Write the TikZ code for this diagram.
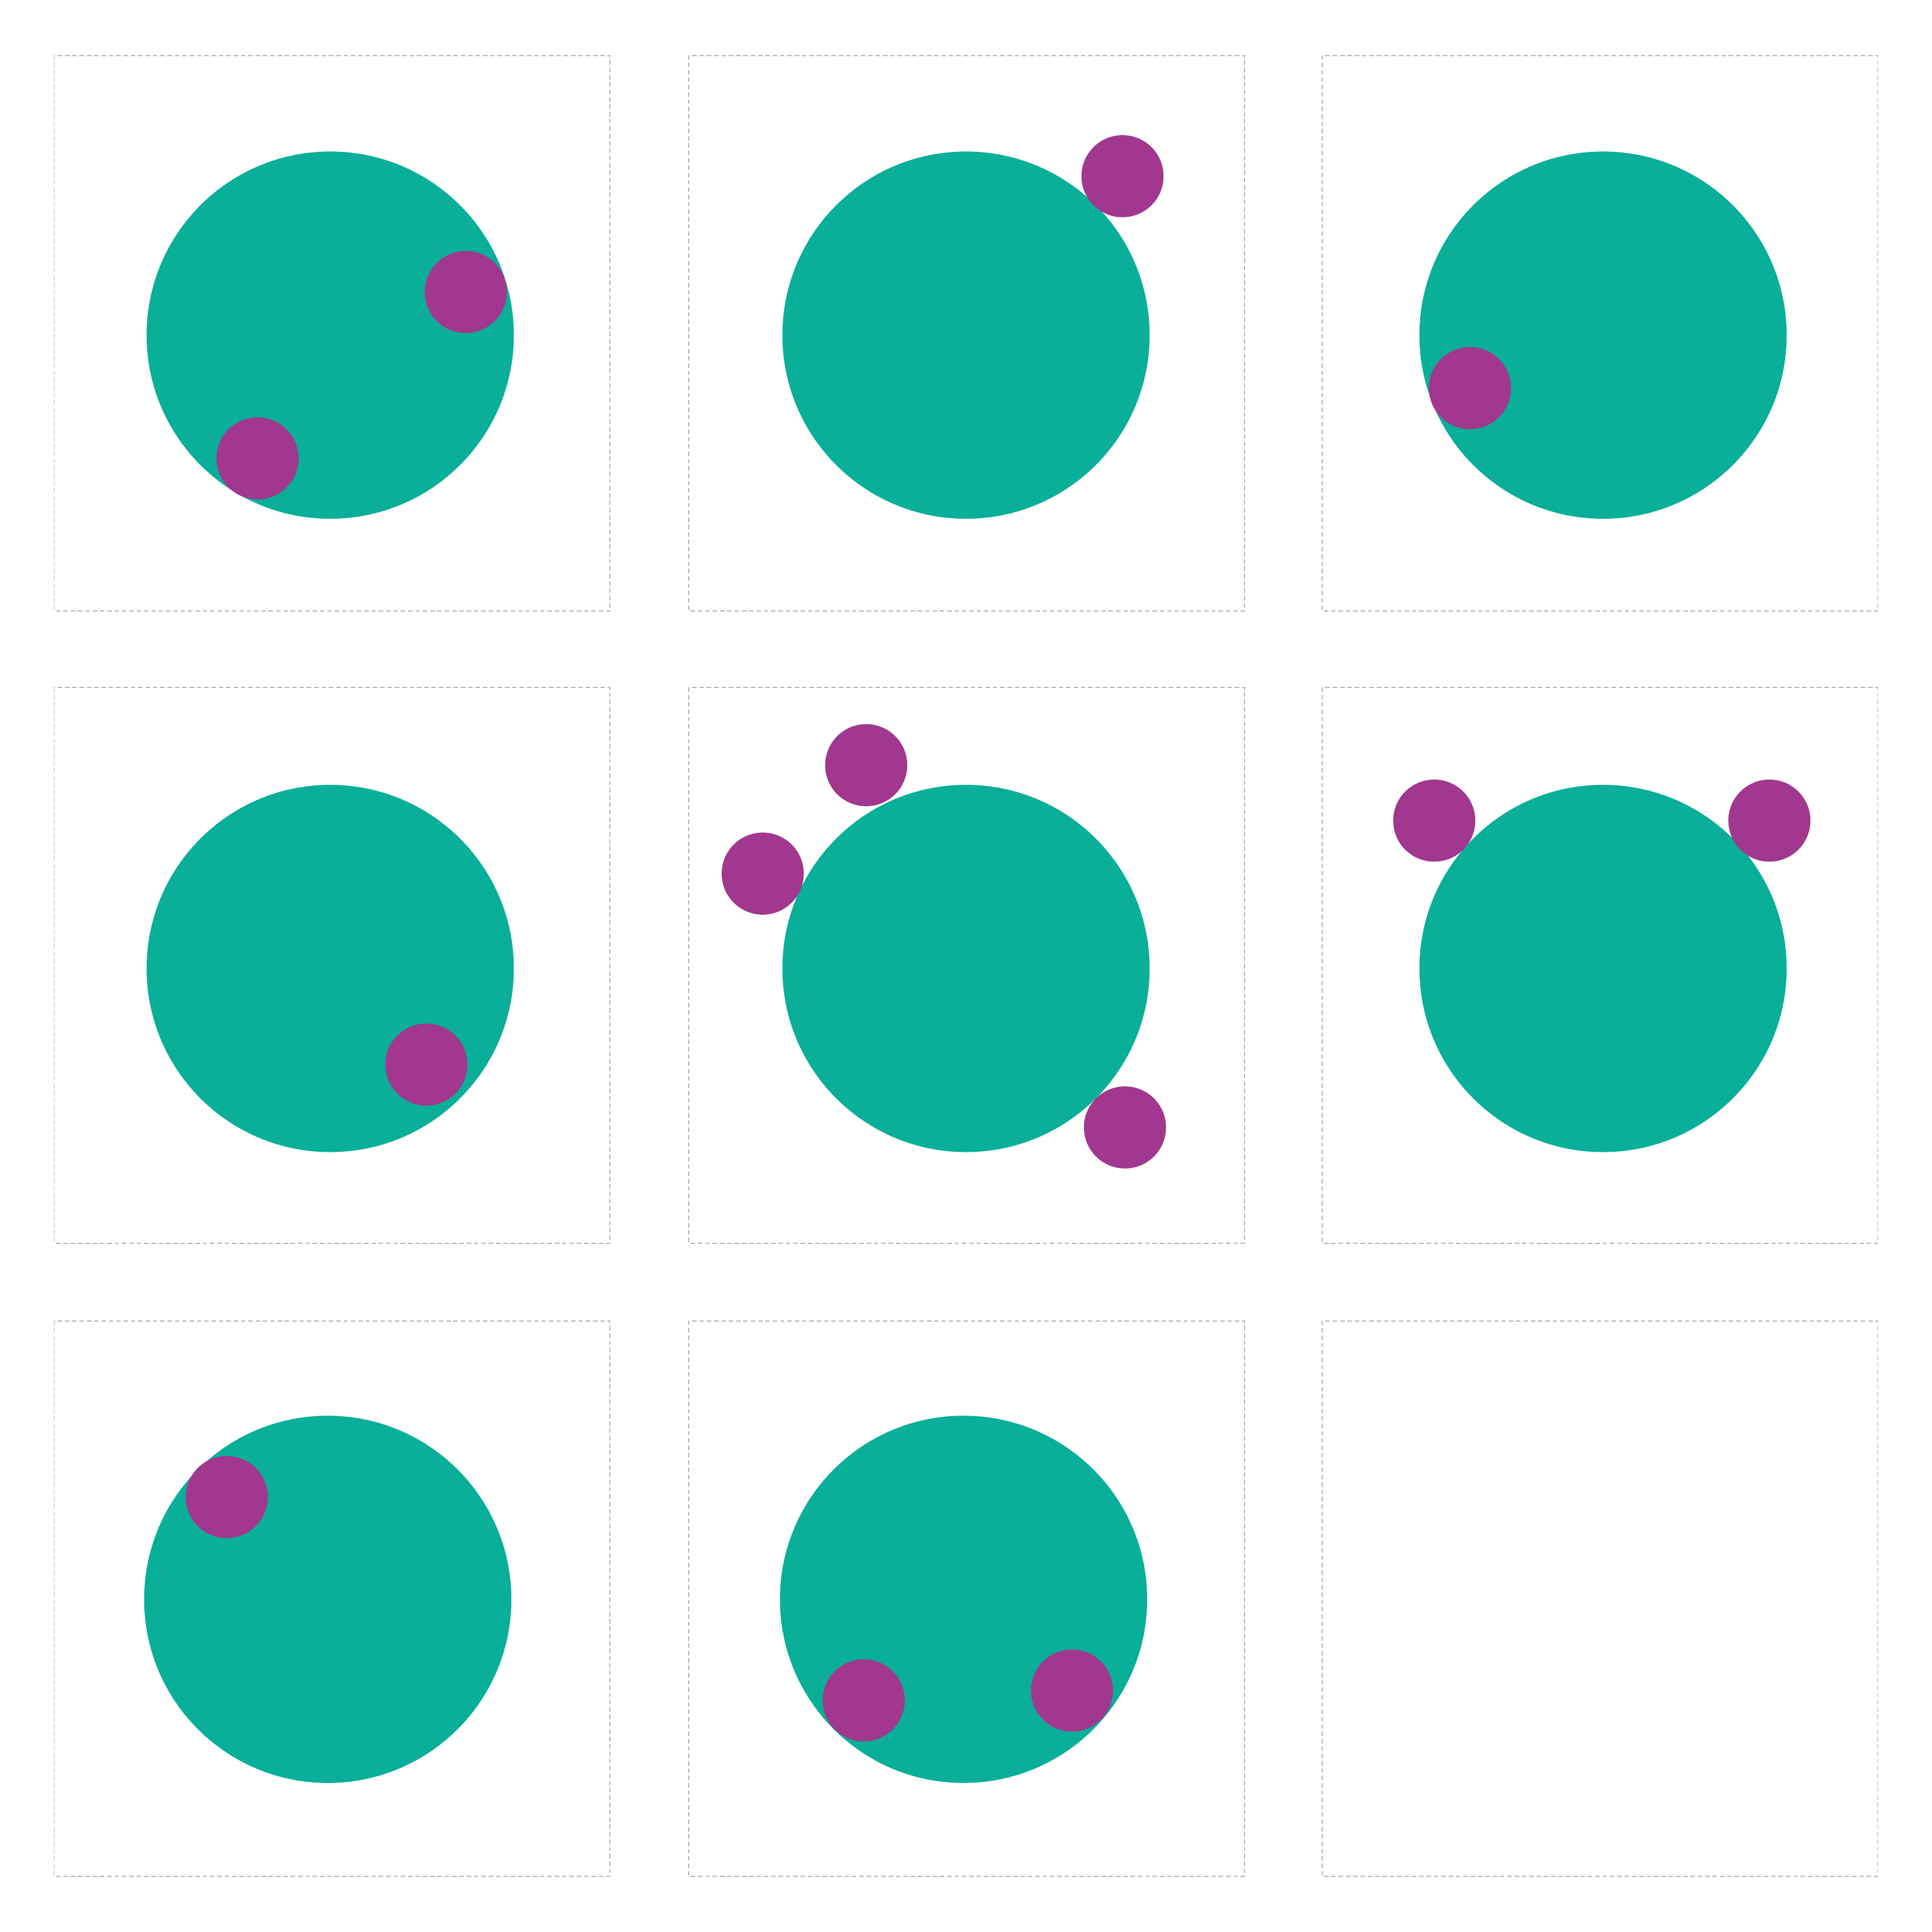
\documentclass[tikz,border=0pt]{standalone}
\usepackage{tikz}
\definecolor{tealc}{HTML}{09AF98}
\definecolor{purc}{HTML}{A1378F}
\definecolor{boxc}{HTML}{B4B4B4}
\begin{document}
\begin{tikzpicture}[x=0.021256cm,y=-0.021256cm,
  panel/.style={draw=boxc,line width=0.55pt,dash pattern=on 2.2pt off 1.4pt},
  big/.style={circle,fill=tealc,inner sep=0pt,minimum size=6.335cm},
  small/.style={circle,fill=purc,inner sep=0pt,minimum size=1.416cm}]
\useasboundingbox (0,0) rectangle (1568,1568);
% panels
\foreach \c/\px in {0/44,1/559,2/1073}{
  \foreach \r/\py in {0/45,1/558,2/1072}{
    \draw[panel] (\px,\py) rectangle ++(451,451);
  }
}
% big circles
\node[big] (b1) at (268,272) {};
\node[big] (b2) at (784,272) {};
\node[big] (b3) at (1301,272) {};
\node[big] (b4) at (268,786) {};
\node[big] (b5) at (784,786) {};
\node[big] (b6) at (1301,786) {};
\node[big] (b7) at (266,1298) {};
\node[big] (b8) at (782,1298) {};
% small circles
\node[small] (s1a) at (378,237) {};
\node[small] (s1b) at (209,372) {};
\node[small] (s2a) at (911,143) {};
\node[small] (s3a) at (1193,315) {};
\node[small] (s4a) at (346,864) {};
\node[small] (s5a) at (703,621) {};
\node[small] (s5b) at (619,709) {};
\node[small] (s5c) at (913,915) {};
\node[small] (s6a) at (1164,666) {};
\node[small] (s6b) at (1436,666) {};
\node[small] (s7a) at (184,1215) {};
\node[small] (s8a) at (701,1380) {};
\node[small] (s8b) at (870,1372) {};
\end{tikzpicture}
\end{document}
